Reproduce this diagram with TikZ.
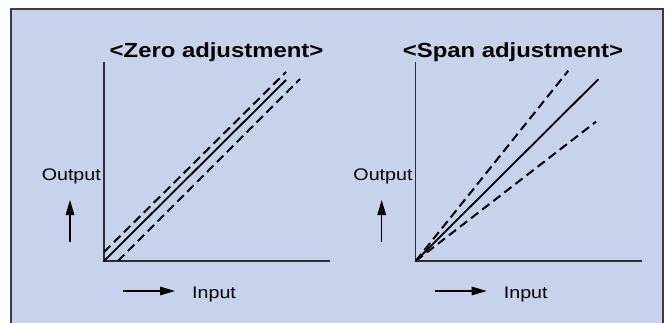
\documentclass[tikz,border=0pt]{standalone}
\usepackage{fontspec}
\setmainfont{Liberation Sans}
\usetikzlibrary{arrows.meta}
\definecolor{panelblue}{RGB}{198,211,235}
\definecolor{framegray}{RGB}{60,60,60}
\definecolor{axisgray}{RGB}{45,45,50}
\newcommand{\wide}[1]{\scalebox{1.17}[1]{#1}}

\begin{document}
\begin{tikzpicture}[x=1pt,y=1pt,>={Triangle[length=15pt,width=8.5pt]},
    every node/.style={inner sep=0pt,font=\fontsize{16.8}{18}\selectfont},
    heading/.style={font=\fontsize{20.4}{24}\selectfont\bfseries},
    axis/.style={axisgray,line width=1.4pt},
    curve/.style={line width=1.8pt},
    shifted/.style={line width=2pt,dash pattern=on 9pt off 5pt}]
  \useasboundingbox (0,0) rectangle (669,322);
  \draw[framegray,line width=2pt,fill=panelblue] (11,-10) rectangle (663,312.5);
  \foreach \p/\dx/\tx/\kind in {z/0/216.5/Zero,s/311.7/513/Span}{
    \coordinate (\p-o) at (104+\dx,61);
    \coordinate (\p-y) at (104+\dx,260);
    \coordinate (\p-x) at (330+\dx,61);
    \draw[axis] (\p-y) -- (\p-o) -- (\p-x);
    \node[heading,anchor=base] (\p-title) at (\tx,265) {\wide{<\kind{} adjustment>}};
    \node[anchor=base east] (\p-out) at (101+\dx,142) {\wide{Output}};
    \node[anchor=base west] (\p-in) at (192+\dx,24) {\wide{Input}};
    \coordinate (\p-up0) at (70+\dx,80);
    \coordinate (\p-up1) at (70+\dx,122);
    \coordinate (\p-rt0) at (123+\dx,31);
    \coordinate (\p-rt1) at (175+\dx,31);
    \draw[->,line width=1.3pt] (\p-up0) -- (\p-up1);
    \draw[->,line width=1.3pt] (\p-rt0) -- (\p-rt1);
  }
  \coordinate (z-end) at (286,242);
  \coordinate (z-a0) at (104,70);
  \coordinate (z-a1) at (286,250);
  \coordinate (z-b0) at (118,61);
  \coordinate (z-b1) at (300,243);
  \draw[curve] (z-o) -- (z-end);
  \draw[shifted] (z-a0) -- (z-a1);
  \draw[shifted] (z-b0) -- (z-b1);
  \coordinate (s-end) at (598.3,242.7);
  \coordinate (s-a1) at (568.3,251.3);
  \coordinate (s-b1) at (596,200.3);
  \draw[curve] (s-o) -- (s-end);
  \draw[shifted] (s-o) -- (s-a1);
  \draw[shifted] (s-o) -- (s-b1);
\end{tikzpicture}
\end{document}
